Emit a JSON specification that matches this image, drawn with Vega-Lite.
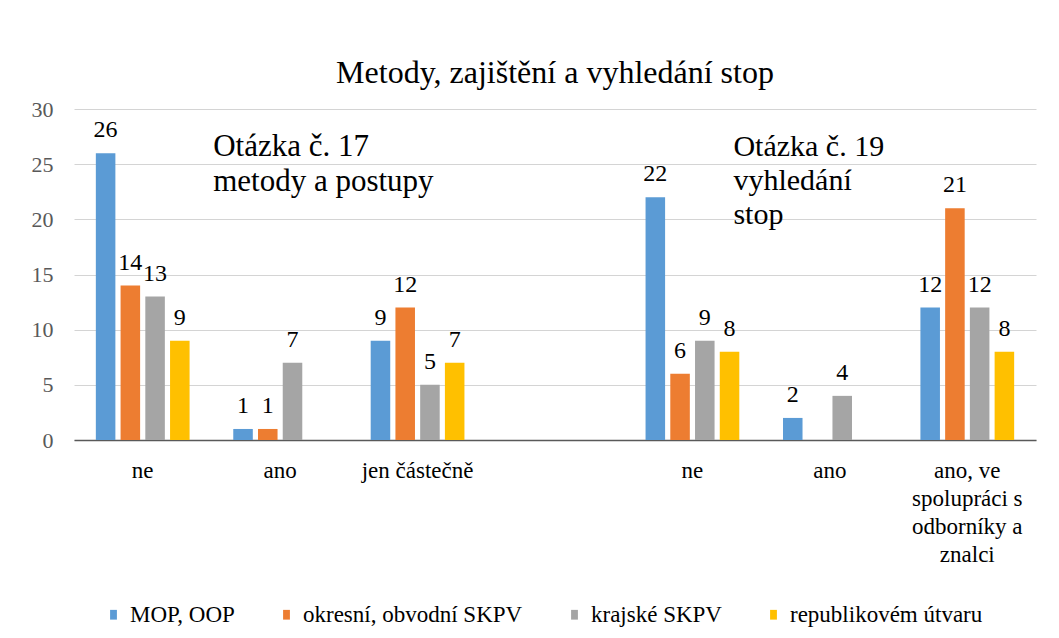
{
  "$schema": "https://vega.github.io/schema/vega-lite/v6.json",
  "width": 962,
  "height": 331,
  "autosize": {"type": "none"},
  "padding": {"left": 74, "top": 109, "right": 23, "bottom": 198},
  "background": "white",
  "config": {
    "font": "Liberation Serif",
    "view": {"stroke": null},
    "axis": {"labelFont": "Liberation Serif"},
    "legend": {"labelFont": "Liberation Serif"},
    "text": {"font": "Liberation Serif"}
  },
  "title": {
    "text": "Metody, zajištění a vyhledání stop",
    "font": "Liberation Serif",
    "fontSize": 32,
    "fontWeight": "normal",
    "color": "#000000",
    "anchor": "middle",
    "offset": 8
  },
  "datasets": {
    "main": [
      {"cat": "a", "series": "MOP, OOP", "value": 26},
      {"cat": "a", "series": "okresní, obvodní SKPV", "value": 14},
      {"cat": "a", "series": "krajské SKPV", "value": 13},
      {"cat": "a", "series": "republikovém útvaru", "value": 9},
      {"cat": "b", "series": "MOP, OOP", "value": 1},
      {"cat": "b", "series": "okresní, obvodní SKPV", "value": 1},
      {"cat": "b", "series": "krajské SKPV", "value": 7},
      {"cat": "c", "series": "MOP, OOP", "value": 9},
      {"cat": "c", "series": "okresní, obvodní SKPV", "value": 12},
      {"cat": "c", "series": "krajské SKPV", "value": 5},
      {"cat": "c", "series": "republikovém útvaru", "value": 7},
      {"cat": "d", "series": "MOP, OOP", "value": 22},
      {"cat": "d", "series": "okresní, obvodní SKPV", "value": 6},
      {"cat": "d", "series": "krajské SKPV", "value": 9},
      {"cat": "d", "series": "republikovém útvaru", "value": 8},
      {"cat": "e", "series": "MOP, OOP", "value": 2},
      {"cat": "e", "series": "krajské SKPV", "value": 4},
      {"cat": "f", "series": "MOP, OOP", "value": 12},
      {"cat": "f", "series": "okresní, obvodní SKPV", "value": 21},
      {"cat": "f", "series": "krajské SKPV", "value": 12},
      {"cat": "f", "series": "republikovém útvaru", "value": 8}
    ]
  },
  "layer": [
    {
      "data": {"name": "main"},
      "mark": {"type": "bar"},
      "encoding": {
        "x": {
          "field": "cat", "type": "nominal",
          "scale": {"domain": ["a", "b", "c", "g", "d", "e", "f"], "paddingInner": 0.28, "paddingOuter": 0.14},
          "axis": {
            "title": null,
            "labelAngle": 0,
            "ticks": false,
            "domainColor": "#595959",
            "domainWidth": 1.5,
            "labelFont": "Liberation Serif",
            "labelFontSize": 23,
            "labelColor": "#000000",
            "labelPadding": 19,
            "labelLineHeight": 28,
            "labelLimit": 300,
            "labelExpr": "datum.value=='a'||datum.value=='d' ? 'ne' : datum.value=='b'||datum.value=='e' ? 'ano' : datum.value=='c' ? 'jen částečně' : datum.value=='f' ? ['ano, ve','spolupráci s','odborníky a','znalci'] : ''"
          }
        },
        "xOffset": {
          "field": "series", "type": "nominal",
          "scale": {"domain": ["MOP, OOP", "okresní, obvodní SKPV", "krajské SKPV", "republikovém útvaru"], "paddingInner": 0.21, "paddingOuter": 0.105}
        },
        "y": {
          "field": "value", "type": "quantitative",
          "scale": {"domain": [0, 30]},
          "axis": {
            "title": null,
            "values": [0, 5, 10, 15, 20, 25, 30],
            "domain": false,
            "ticks": false,
            "gridColor": "#d4d4d4",
            "labelFont": "Liberation Serif",
            "labelFontSize": 22,
            "labelColor": "#595959",
            "labelPadding": 21
          }
        },
        "color": {
          "field": "series", "type": "nominal",
          "scale": {
            "domain": ["MOP, OOP", "okresní, obvodní SKPV", "krajské SKPV", "republikovém útvaru"],
            "range": ["#5B9BD5", "#ED7D31", "#A5A5A5", "#FFC000"]
          },
          "legend": {
            "title": null,
            "orient": "none",
            "legendX": 28,
            "legendY": 494,
            "direction": "horizontal",
            "symbolType": "M-0.35,-0.5H0.35V0.5H-0.35Z",
            "symbolSize": 380,
            "symbolStrokeWidth": 0,
            "labelFont": "Liberation Serif",
            "labelFontSize": 23,
            "labelLimit": 400,
            "labelColor": "#000000",
            "labelOffset": 5,
            "columnPadding": 40
          }
        }
      }
    },
    {
      "data": {"name": "main"},
      "mark": {"type": "text", "font": "Liberation Serif", "fontSize": 24, "color": "#000000", "baseline": "alphabetic", "dy": -16},
      "encoding": {
        "x": {"field": "cat", "type": "nominal"},
        "xOffset": {"field": "series", "type": "nominal"},
        "y": {"field": "value", "type": "quantitative"},
        "text": {"field": "value", "type": "quantitative"}
      }
    },
    {
      "data": {"values": [{"cat": "b", "pos": 27.9, "label": "Otázka č. 17\nmetody a postupy"}]},
      "mark": {"type": "text", "font": "Liberation Serif", "fontSize": 31, "color": "#000000", "align": "left", "baseline": "top", "lineBreak": "\n", "lineHeight": 35, "dx": -67},
      "encoding": {
        "x": {"field": "cat", "type": "nominal"},
        "y": {"field": "pos", "type": "quantitative"},
        "text": {"field": "label"}
      }
    },
    {
      "data": {"values": [{"cat": "d", "pos": 27.9, "label": "Otázka č. 19\nvyhledání\nstop"}]},
      "mark": {"type": "text", "font": "Liberation Serif", "fontSize": 30, "color": "#000000", "align": "left", "baseline": "top", "lineBreak": "\n", "lineHeight": 34, "dx": 41},
      "encoding": {
        "x": {"field": "cat", "type": "nominal"},
        "y": {"field": "pos", "type": "quantitative"},
        "text": {"field": "label"}
      }
    }
  ]
}
